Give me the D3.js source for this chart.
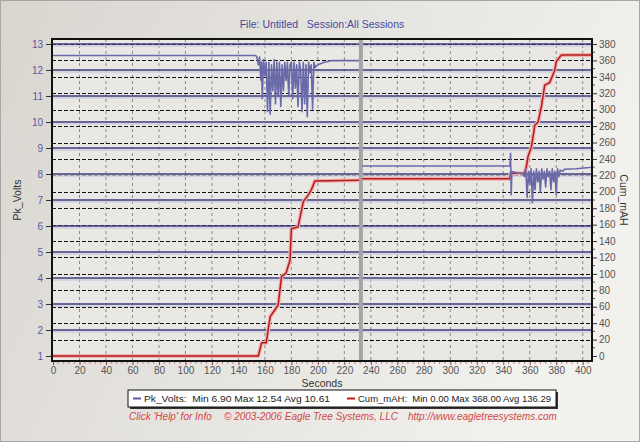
<!DOCTYPE html>
<html><head><meta charset="utf-8">
<script src="https://cdn.jsdelivr.net/npm/d3@7"></script>
<style>html,body{margin:0;padding:0;background:#fff;}svg{display:block;font-family:"Liberation Sans",Arial,sans-serif;}</style>
</head><body>
<svg id="c" width="640" height="442"></svg>
<script>
// ---- data ----
const titleText = "File: Untitled   Session:All Sessions";
const xTicks = [0,20,40,60,80,100,120,140,160,180,200,220,240,260,280,300,320,340,360,380,400];
const voltTicks = [1,2,3,4,5,6,7,8,9,10,11,12,13];
const mahTicks = [0,20,40,60,80,100,120,140,160,180,200,220,240,260,280,300,320,340,360,380];
const sessionBreak = 232.5;

// Pk_Volts session 1
const volts1Sec = [0,153,154,155,156,157,157.5,158,159,160,161,162,163,164,165,166,167,168,169,170,171,172,173,174,175,176,177,178,179,180,181,182,183,184,185,186,187,188,189,190,191,192,193,194,195,196,197,198,200,205,210,231];
const volts1Val = [12.56,12.56,12.5,12.2,12.5,11.6,12.3,10.9,12.4,11.8,12.3,10.4,12.3,10.3,12.2,11.2,12.4,10.7,12.3,11.0,12.3,10.6,12.2,11.2,12.3,11.6,12.3,11.0,12.2,12.3,10.9,12.3,11.3,12.2,10.6,12.3,12.0,10.4,12.3,10.7,12.2,10.2,12.3,11.9,12.2,10.5,12.3,12.1,12.2,12.3,12.36,12.36];
// Pk_Volts session 2
const volts2Sec = [233.5,345,345.5,346,346.5,350,355,356,357,358,359,360,361,362,363,364,365,366,367,368,369,370,371,372,373,374,375,376,377,378,379,380,381,382,383,385,386,395,405,407];
const volts2Val = [8.31,8.31,8.8,7.2,8.1,8.05,8.0,7.9,8.2,7.1,8.1,7.6,8.2,6.9,8.1,7.4,8.2,7.7,8.1,7.3,8.2,7.8,8.1,7.5,8.2,7.9,8.1,7.4,8.2,7.7,8.1,7.2,8.2,7.9,8.15,8.1,8.18,8.2,8.25,8.27];
// Cum_mAH session 1
const mah1Sec = [0,155,157.5,161,164,167.5,170,172.6,176,179,180,185,189,192.7,195,197.7,231];
const mah1Val = [0,0,16,16,48,56,62,97,101,117,155,157,188,196,202,213,214];
// Cum_mAH session 2
const mah2Sec = [233.5,345,345.5,356,357.5,358.7,361.3,363.8,366.3,368.8,371.3,375,378.9,380,383.9,407];
const mah2Val = [216,216,222.5,222.5,231,243,255,281,285,304,330,333,348,358.5,366.6,366.6];

const legendVolts = "Pk_Volts:  Min 6.90 Max 12.54 Avg 10.61";
const legendMah = "Cum_mAH:  Min 0.00 Max 368.00 Avg 136.29";
const footerTexts = ["Click 'Help' for Info", "\u00A9 2003-2006 Eagle Tree Systems, LLC", "http://www.eagletreesystems.com"];

// ---- drawing ----
const svg = d3.select("#c");
const W = 640, H = 442;
const L = 52, R = 592, T = 39, B = 361;

const defs = svg.append("defs");
const g = defs.append("linearGradient").attr("id","bg").attr("x1","0").attr("x2","1").attr("y1","0").attr("y2","0.3");
g.append("stop").attr("offset","0").attr("stop-color","#d9d6d0");
g.append("stop").attr("offset","1").attr("stop-color","#f2f1ee");
svg.append("rect").attr("x",0).attr("y",0).attr("width",W).attr("height",H).attr("fill","url(#bg)");
svg.append("rect").attr("x",0.5).attr("y",0.5).attr("width",W-1).attr("height",H-1).attr("fill","none").attr("stroke","#a8a6a2");

const x = d3.scaleLinear().domain([0,407]).range([53,592]);
const yV = d3.scaleLinear().domain([1,13]).range([356,44]);
const yM = d3.scaleLinear().domain([0,380]).range([356,44]);

// plot background
svg.append("rect").attr("x",L).attr("y",T).attr("width",R-L).attr("height",B-T).attr("fill","#e9e8e4");

// vertical grid
svg.append("g").selectAll("line").data(xTicks.filter(d=>d>0)).join("line")
  .attr("x1",d=>x(d)).attr("x2",d=>x(d)).attr("y1",T).attr("y2",B)
  .attr("stroke","#8a8a8a").attr("stroke-dasharray","3,3").attr("stroke-width",1);

// mAh dashed grid
svg.append("g").selectAll("line").data(mahTicks.filter(d=>d>0)).join("line")
  .attr("x1",L).attr("x2",R).attr("y1",d=>Math.round(yM(d))+0.5).attr("y2",d=>Math.round(yM(d))+0.5)
  .attr("stroke","#111").attr("stroke-dasharray","4,2").attr("stroke-width",1);

// volts solid grid
const vg = svg.append("g");
vg.selectAll("line.h").data(voltTicks.filter(d=>d>1)).join("line").attr("class","h")
  .attr("x1",L).attr("x2",R).attr("y1",d=>Math.round(yV(d))+2).attr("y2",d=>Math.round(yV(d))+2)
  .attr("stroke","#ccccdf").attr("stroke-width",1.5);
vg.selectAll("line.m").data(voltTicks.filter(d=>d>1)).join("line").attr("class","m")
  .attr("x1",L).attr("x2",R).attr("y1",d=>Math.round(yV(d))).attr("y2",d=>Math.round(yV(d)))
  .attr("stroke","#3c3c7c").attr("stroke-width",1.6);

// session separator
svg.append("rect").attr("x",x(sessionBreak)-2).attr("y",T).attr("width",4).attr("height",B-T).attr("fill","#a4a4a4");

// lines
const mk = (sec, val, ys) => sec.map((s,i)=>[x(s), ys(val[i])]);
const lineGen = d3.line();
[[mah1Sec,mah1Val],[mah2Sec,mah2Val]].forEach(([s,v])=>{
  svg.append("path").attr("d",lineGen(mk(s,v,yM))).attr("fill","none").attr("stroke","#efb0b0").attr("stroke-width",4).attr("stroke-linejoin","round");
});
[[mah1Sec,mah1Val],[mah2Sec,mah2Val]].forEach(([s,v])=>{
  svg.append("path").attr("d",lineGen(mk(s,v,yM))).attr("fill","none").attr("stroke","#b41c1c").attr("stroke-width",1.5).attr("stroke-linejoin","round");
});
[[volts1Sec,volts1Val],[volts2Sec,volts2Val]].forEach(([s,v])=>{
  svg.append("path").attr("d",lineGen(mk(s,v,yV))).attr("fill","none").attr("stroke","#6a6aaa").attr("stroke-width",1.6).attr("stroke-linejoin","round");
});

// frame
svg.append("rect").attr("x",L).attr("y",T).attr("width",R-L).attr("height",B-T).attr("fill","none").attr("stroke","#111").attr("stroke-width",2);

// axes
const fs = "10px";
const la = svg.append("g").attr("transform",`translate(${L-1},0)`)
  .call(d3.axisLeft(yV).tickValues(voltTicks).tickSize(5).tickPadding(3).tickFormat(d3.format("d")));
la.select(".domain").remove();
la.selectAll("line").attr("stroke","#333");
la.selectAll("text").attr("fill","#5a5aa0").style("font-size",fs);

const ra = svg.append("g").attr("transform",`translate(${R+1},0)`)
  .call(d3.axisRight(yM).tickValues(mahTicks).tickSize(4).tickPadding(2).tickFormat(d3.format("d")));
ra.select(".domain").remove();
ra.selectAll("line").attr("stroke","#333");
ra.selectAll("text").attr("fill","#555").style("font-size",fs);
// right minor ticks
svg.append("g").selectAll("line").data(mahTicks.slice(0,-1).map(d=>d+10)).join("line")
  .attr("x1",R+1).attr("x2",R+3).attr("y1",d=>yM(d)).attr("y2",d=>yM(d)).attr("stroke","#555");

const xa = svg.append("g").attr("transform",`translate(0,${B+1})`)
  .call(d3.axisBottom(x).tickValues(xTicks).tickSize(3).tickPadding(2).tickFormat(d3.format("d")));
xa.select(".domain").remove();
xa.selectAll("line").attr("stroke","#904040");
xa.selectAll("text").attr("fill","#555").style("font-size",fs);
// x minor ticks
svg.append("g").selectAll("line").data(d3.range(0,407,4).filter(d=>d%20!==0)).join("line")
  .attr("x1",d=>x(d)).attr("x2",d=>x(d)).attr("y1",B+1).attr("y2",B+3).attr("stroke","#d08080");

// titles
svg.append("text").attr("x",322).attr("y",28).attr("text-anchor","middle").attr("fill","#4848a0").style("font-size","10.5px").attr("xml:space","preserve").text(titleText);
svg.append("text").attr("transform","translate(21,200) rotate(-90)").attr("text-anchor","middle").attr("fill","#333").style("font-size","10.5px").text("Pk_Volts");
svg.append("text").attr("transform","translate(620,200) rotate(90)").attr("text-anchor","middle").attr("fill","#333").style("font-size","10.5px").text("Cum_mAH");
svg.append("text").attr("x",322).attr("y",387).attr("text-anchor","middle").attr("fill","#333").style("font-size","10.5px").text("Seconds");

// legend
svg.append("rect").attr("x",130).attr("y",392).attr("width",428).attr("height",17).attr("fill","#333");
svg.append("rect").attr("x",128).attr("y",390).attr("width",428).attr("height",17).attr("fill","#fff").attr("stroke","#111");
svg.append("line").attr("x1",133).attr("x2",141).attr("y1",398.5).attr("y2",398.5).attr("stroke","#5a5a9a").attr("stroke-width",2);
svg.append("text").attr("x",144).attr("y",402).attr("fill","#222").style("font-size","9.5px").attr("textLength",186).attr("lengthAdjust","spacingAndGlyphs").attr("xml:space","preserve").text(legendVolts);
svg.append("line").attr("x1",347).attr("x2",355).attr("y1",398.5).attr("y2",398.5).attr("stroke","#c01818").attr("stroke-width",2);
svg.append("text").attr("x",358).attr("y",402).attr("fill","#222").style("font-size","9.5px").attr("textLength",193).attr("lengthAdjust","spacingAndGlyphs").attr("xml:space","preserve").text(legendMah);

// footer
const fx = [129, 224, 408];
footerTexts.forEach((t,i)=>{
  svg.append("text").attr("x",fx[i]).attr("y",420).attr("fill","#d04848").style("font-size","10px").style("font-style","italic").text(t);
});
</script>
</body></html>
